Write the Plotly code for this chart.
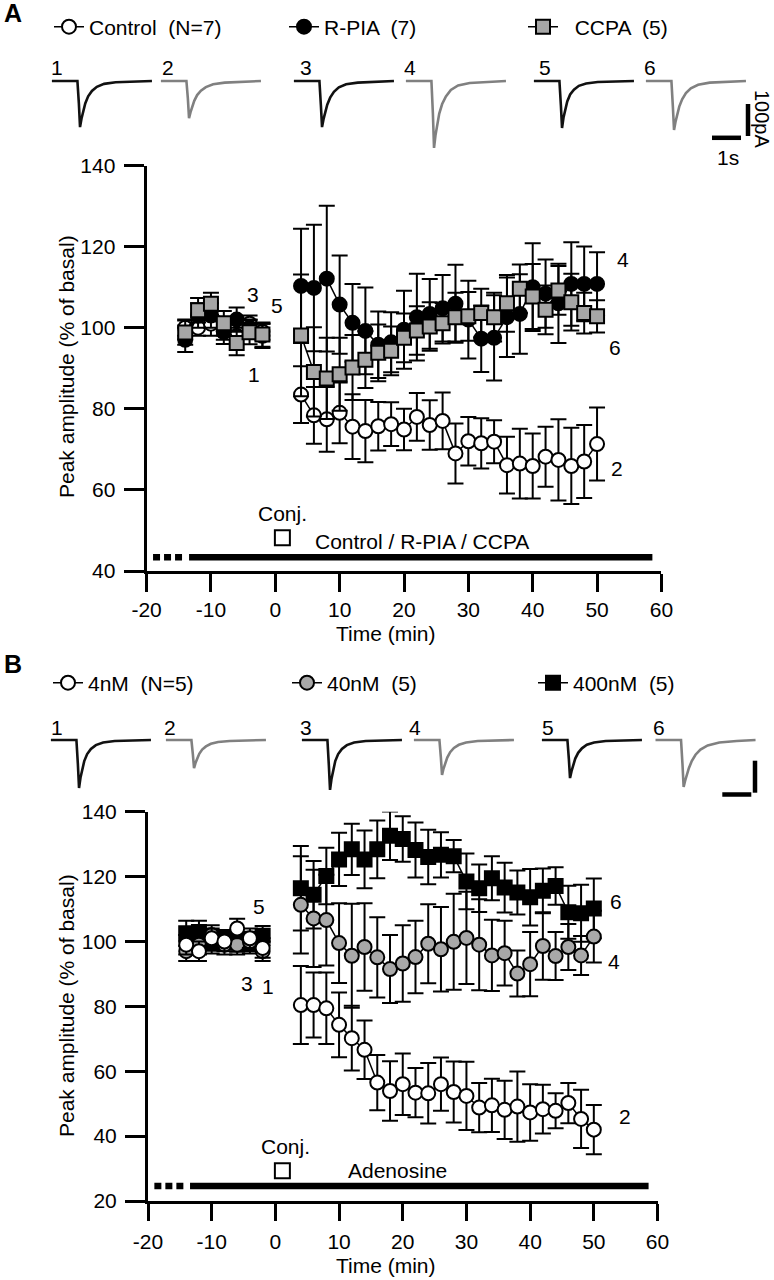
import plotly.graph_objects as go

W, H = 774, 1280
FONT = "Liberation Sans, Arial, Helvetica, sans-serif"
FS = 21

# ---------------- data (time in min) ----------------
TIME_PRE = [-14, -12, -10, -8, -6, -4, -2]
TIME_POST = [4, 6, 8, 10, 12, 14, 16, 18, 20, 22, 24, 26, 28, 30, 32, 34, 36, 38, 40, 42, 44, 46, 48, 50]

# Panel A (% of basal, mean and SEM)
CONTROL_PRE = [100, 100, 101, 99, 98, 101, 99]
CONTROL_PRE_SEM = [2, 2, 3, 2, 2, 2, 2]
CONTROL_POST = [83.5, 78.4, 77.4, 79.0, 75.6, 74.5, 75.7, 76.2, 74.9, 78.0, 76.0, 77.0,
                69.0, 72.0, 71.5, 71.9, 66.1, 66.5, 65.9, 68.2, 67.4, 65.9, 67.0, 71.3]
CONTROL_POST_SEM = [7, 7, 8, 7.5, 8, 7.7, 6, 5.4, 5.1, 5.9, 6.1, 7,
                    7.4, 6, 6.2, 5.3, 7, 8.6, 8, 7.4, 10, 9.4, 9, 9]

RPIA_PRE = [97, 103, 103, 99, 102, 100, 98]
RPIA_PRE_SEM = [3, 3, 3, 3, 3, 2, 3]
RPIA_POST = [110.3, 109.8, 112.1, 105.7, 101.2, 99.2, 95.8, 96.4, 99.5, 102.6, 103.4, 104.8,
             105.9, 102.0, 97.3, 97.5, 102.6, 103.4, 110.0, 108.4, 106.0, 110.8, 110.8, 110.8]
RPIA_POST_SEM = [14.1, 15.6, 18, 12.1, 9.6, 10.7, 8.2, 7.4, 9.6, 10.7, 8.6, 8.2,
                 9.6, 9.6, 8.2, 10.5, 9.8, 9.8, 10.8, 8.4, 9.8, 10.3, 9.2, 7.8]

CCPA_PRE = [98.8, 104.3, 105.9, 101.1, 96.2, 98.9, 98.3]
CCPA_PRE_SEM = [3, 3, 2.7, 3, 3, 3, 3]
CCPA_POST = [98.1, 89.1, 87.5, 88.5, 90.2, 92.1, 93.8, 94.3, 97.5, 99.3, 100.3, 101.1,
             102.6, 102.8, 103.6, 102.6, 106.0, 109.6, 107.7, 104.4, 109.2, 106.3, 103.6, 102.8]
CCPA_POST_SEM = [15, 11, 10, 9, 8, 7, 7, 6, 6, 6, 6, 5,
                 6, 6, 6, 6, 7, 6, 8, 6, 6, 7, 5, 4]

# Panel B
AD4_PRE = [99, 97, 101, 100, 104, 101, 98]
AD4_PRE_SEM = [3, 3, 3, 3, 3, 3, 3]
AD4_POST = [80.4, 80.4, 79.4, 74.3, 70.2, 66.6, 56.5, 53.9, 56.0, 53.4, 53.2, 56.0,
            53.6, 52.4, 48.8, 49.5, 48.1, 49.1, 47.3, 48.3, 47.8, 50.2, 45.3, 42.0]
AD4_POST_SEM = [12, 10, 11, 10, 10, 9, 8.5, 9.2, 9.5, 7.6, 9.3, 8.2,
                9.4, 10.5, 7.6, 8.2, 9, 10.8, 8.7, 7.5, 5.4, 6.2, 9, 7.6]

AD40_PRE = [97, 99, 102, 99, 99, 100, 97]
AD40_PRE_SEM = [3, 3, 3, 3, 3, 3, 3]
AD40_POST = [111.3, 107.1, 106.6, 99.5, 95.6, 98.3, 95.1, 91.5, 93.2, 95.2, 99.3, 97.6,
             99.9, 101.1, 99.0, 95.7, 96.4, 90.1, 93.0, 98.6, 95.5, 98.3, 95.7, 101.5]
AD40_POST_SEM = [15, 15, 14, 12.3, 16, 13.5, 12.4, 10.5, 11.8, 11.2, 12.2, 13,
                 14.8, 14.2, 14, 11, 10, 7.1, 9.9, 10.4, 7.4, 7.1, 6, 8]

AD400_PRE = [102.5, 102.9, 99.3, 100.5, 99.8, 99.3, 101.8]
AD400_PRE_SEM = [3.9, 3.5, 3, 3, 3, 3, 3]
AD400_POST = [116.4, 114.4, 120.2, 125.3, 128.4, 125.3, 128.4, 132.6, 131.6, 128.2, 126.0, 126.7,
              126.3, 118.5, 116.4, 119.5, 116.6, 115.1, 113.6, 115.6, 117.1, 109.0, 108.7, 110.2]
AD400_POST_SEM = [13, 10.4, 8.7, 8.2, 7.9, 8.9, 8.9, 7.5, 7, 8.5, 8.4, 7,
                  5, 8.6, 7.3, 6.8, 7.7, 6.8, 8.7, 6.9, 5.8, 8.2, 8.8, 9.2]

# drug application bars (min) and conditioning time
DRUG_BASE = [-19.0, -14.4]
DRUG_ON = [-13.4, 58.6]
CONJ_T = 1.1

# example sweeps: time (s) and current relative to baseline (pA)
SWEEP_T = [0, 0.88, 0.93, 0.97, 1.02, 1.08, 1.15, 1.25, 1.38, 1.55, 1.8, 2.2, 2.8, 3.45]
SWEEPS_A = [
    [0, 0, -70, -144, -118, -92, -70, -48, -31, -18, -9, -4, -2, 0],
    [0, 0, -55, -116, -98, -80, -62, -44, -30, -19, -10, -5, -2, 0],
    [0, 0, -75, -144, -120, -96, -74, -52, -34, -20, -10, -5, -2, 0],
    [0, 0, -100, -209, -170, -135, -102, -72, -48, -28, -14, -6, -2, 0],
    [0, 0, -75, -147, -115, -88, -64, -42, -27, -15, -8, -3, -1, 0],
    [0, 0, -80, -153, -128, -104, -80, -57, -38, -23, -12, -5, -2, 0],
]
SWEEPS_B = [
    [0, 0, -75, -150, -118, -90, -66, -44, -28, -16, -8, -3, -1, 0],
    [0, 0, -45, -88, -72, -57, -43, -30, -20, -12, -6, -3, -1, 0],
    [0, 0, -80, -156, -122, -92, -66, -44, -28, -16, -8, -3, -1, 0],
    [0, 0, -55, -109, -90, -72, -55, -38, -25, -15, -8, -3, -1, 0],
    [0, 0, -60, -119, -98, -78, -58, -40, -26, -15, -8, -3, -1, 0],
    [0, 0, -75, -147, -128, -108, -88, -66, -46, -30, -17, -8, -3, 0],
]
SWEEP_LABELS = ["1", "2", "3", "4", "5", "6"]
SCALE_S, SCALE_PA = 1, 100

XTICKS = [-20, -10, 0, 10, 20, 30, 40, 50, 60]
XTICK_TEXT = ["-20", "-10", "0", "10", "20", "30", "40", "50", "60"]
YTICKS_A = [40, 60, 80, 100, 120, 140]
YTICKS_B = [20, 40, 60, 80, 100, 120, 140]

# ---------------- layout helpers (pixel -> paper) ----------------
def PX(x):
    return x / W

def PY(y):
    return 1 - y / H

PX_PER_S, PX_PER_PA = 29.0, 0.32

fig = go.Figure()

def series(pre, post):
    return pre + [None] + post

XS = series(TIME_PRE, TIME_POST)

def add_group(name, pre, pre_e, post, post_e, symbol, fill, xa, ya, legend, rank):
    fig.add_trace(go.Scatter(
        x=XS, y=series(pre, post), name=name,
        mode="lines+markers", connectgaps=False,
        line=dict(color="black", width=1.5),
        marker=dict(symbol=symbol, size=14, color=fill, line=dict(color="black", width=2)),
        error_y=dict(type="data", array=series(pre_e, post_e), visible=True,
                     color="black", thickness=2, width=8),
        xaxis=xa, yaxis=ya, legend=legend, cliponaxis=False, legendrank=rank,
        hoverinfo="skip"))

add_group("Control  (N=7)", CONTROL_PRE, CONTROL_PRE_SEM, CONTROL_POST, CONTROL_POST_SEM,
          "circle", "white", "x", "y", "legend", 1)
add_group("R-PIA  (7)", RPIA_PRE, RPIA_PRE_SEM, RPIA_POST, RPIA_POST_SEM,
          "circle", "black", "x", "y", "legend2", 2)
add_group("  CCPA  (5)", CCPA_PRE, CCPA_PRE_SEM, CCPA_POST, CCPA_POST_SEM,
          "square", "#a6a6a6", "x", "y", "legend3", 3)

add_group("400nM  (5)", AD400_PRE, AD400_PRE_SEM, AD400_POST, AD400_POST_SEM,
          "square", "black", "x2", "y2", "legend6", 6)
add_group("40nM  (5)", AD40_PRE, AD40_PRE_SEM, AD40_POST, AD40_POST_SEM,
          "circle", "#a8a8a8", "x2", "y2", "legend5", 5)
add_group("4nM  (N=5)", AD4_PRE, AD4_PRE_SEM, AD4_POST, AD4_POST_SEM,
          "circle", "white", "x2", "y2", "legend4", 4)

# drug bars and conditioning marks
for xa, ya, level, conj_y in [("x", "y", 43.4, 48.2), ("x2", "y2", 24.6, 29.3)]:
    fig.add_trace(go.Scatter(x=DRUG_BASE, y=[level, level], mode="lines",
                             line=dict(color="black", width=6.5, dash="7px,4px"),
                             xaxis=xa, yaxis=ya, showlegend=False, cliponaxis=False, hoverinfo="skip"))
    fig.add_trace(go.Scatter(x=DRUG_ON, y=[level, level], mode="lines",
                             line=dict(color="black", width=6.5),
                             xaxis=xa, yaxis=ya, showlegend=False, cliponaxis=False, hoverinfo="skip"))
    fig.add_trace(go.Scatter(x=[CONJ_T], y=[conj_y], mode="markers",
                             marker=dict(symbol="square-open", size=15, color="black", line=dict(width=2)),
                             xaxis=xa, yaxis=ya, showlegend=False, cliponaxis=False, hoverinfo="skip"))

# example sweeps on an overlay axis (s, pA)
A_START = [51.9, 160.9, 293.9, 405.9, 533.9, 645.9]
B_START = [50.9, 165.9, 301.9, 413.9, 541.9, 655.5]
A_BASE, B_BASE = 81, 740
for starts, base, sweeps in [(A_START, A_BASE, SWEEPS_A), (B_START, B_BASE, SWEEPS_B)]:
    for i, (s0, cur) in enumerate(zip(starts, sweeps)):
        x0 = s0 / PX_PER_S
        y0 = -base / PX_PER_PA
        fig.add_trace(go.Scatter(
            x=[x0 + t for t in SWEEP_T], y=[y0 + c for c in cur], mode="lines",
            line=dict(color="#111111" if i % 2 == 0 else "#808080", width=2.6),
            xaxis="x3", yaxis="y3", showlegend=False, hoverinfo="skip"))

# scale bars
for vx, vbot, hx, hy in [(748, 136, 712, 137.8), (755, 792.7, 722.3, 794.5)]:
    fig.add_trace(go.Scatter(x=[vx / PX_PER_S] * 2,
                             y=[-vbot / PX_PER_PA, -vbot / PX_PER_PA + SCALE_PA],
                             mode="lines", line=dict(color="black", width=4.5),
                             xaxis="x3", yaxis="y3", showlegend=False, hoverinfo="skip"))
    fig.add_trace(go.Scatter(x=[hx / PX_PER_S, hx / PX_PER_S + SCALE_S],
                             y=[-hy / PX_PER_PA] * 2,
                             mode="lines", line=dict(color="black", width=4.5),
                             xaxis="x3", yaxis="y3", showlegend=False, hoverinfo="skip"))

axis_common = dict(showline=True, linewidth=3, linecolor="black", ticks="outside",
                   tickwidth=3, tickcolor="black", showgrid=False, zeroline=False,
                   automargin=False,
                   tickfont=dict(family=FONT, size=FS, color="black"))

fig.update_layout(
    width=W, height=H, margin=dict(l=0, r=0, t=0, b=0, pad=0, autoexpand=False),
    paper_bgcolor="white", plot_bgcolor="rgba(0,0,0,0)",
    font=dict(family=FONT, size=FS, color="black"),
    xaxis=dict(domain=[PX(146.6), PX(661.4)], range=[-20, 60], tickvals=XTICKS,
               ticktext=XTICK_TEXT, ticklen=18, anchor="y", **axis_common),
    yaxis=dict(domain=[PY(571), PY(165.5)], range=[40, 140], tickvals=YTICKS_A,
               ticklen=20, ticklabelstandoff=4, anchor="x", **axis_common),
    xaxis2=dict(domain=[PX(148), PX(657.5)], range=[-20, 60], tickvals=XTICKS,
                ticktext=XTICK_TEXT, ticklen=17, ticklabelstandoff=3, anchor="y2", **axis_common),
    yaxis2=dict(domain=[PY(1201), PY(811.7)], range=[20, 140],
                tickvals=YTICKS_B, ticklen=20, ticklabelstandoff=4, anchor="x2", **axis_common),
    xaxis3=dict(domain=[0, 1], range=[0, W / PX_PER_S], visible=False, anchor="y3"),
    yaxis3=dict(domain=[0, 1], range=[-H / PX_PER_PA, 0], visible=False, anchor="x3"),
)

# legends, one per item (x = left edge of the legend box)
LEG_POS = {"legend": (49, 27), "legend2": (284, 27), "legend3": (523, 27),
           "legend4": (48, 683), "legend5": (287, 683), "legend6": (533, 683)}
for key, (lx, ly) in LEG_POS.items():
    fig.update_layout({key: dict(x=PX(lx), y=PY(ly), xanchor="left", yanchor="middle",
                                 orientation="h", bgcolor="rgba(0,0,0,0)", borderwidth=0,
                                 font=dict(family=FONT, size=FS, color="black"), itemwidth=30)})

ann = []
def text(x, y, s, size=FS, **kw):
    d = dict(x=PX(x), y=PY(y), xref="paper", yref="paper", text=s, showarrow=False,
             font=dict(family=FONT, size=size, color="black"), xanchor="center", yanchor="middle")
    d.update(kw)
    ann.append(d)

# panel letters
text(13, 13, "<b>A</b>", size=25)
text(13, 664, "<b>B</b>", size=25)
# sweep numbers
for lbl, x in zip(SWEEP_LABELS, [57, 168, 306, 410, 545, 650]):
    text(x, 68, lbl)
for lbl, x in zip(SWEEP_LABELS, [57, 170, 306, 415, 548, 659]):
    text(x, 727, lbl)
# scale bar labels
text(762, 119, "100pA", textangle=90, size=20)
text(727.5, 157.5, "1s")
# curve labels
for lbl, x, y in [("3", 253, 294), ("5", 277, 305), ("1", 254, 374),
                  ("4", 623, 259), ("6", 615, 347), ("2", 617, 468)]:
    text(x, y, lbl)
for lbl, x, y in [("5", 259, 906), ("3", 247, 983), ("1", 268, 986),
                  ("6", 616, 901), ("4", 614, 961), ("2", 625, 1116)]:
    text(x, y, lbl)
# conj / drug labels
text(282, 513, "Conj.")
text(313, 541.7, "Control / R-PIA / CCPA", xanchor="left")
text(285, 1146, "Conj.")
text(346, 1170, "Adenosine", xanchor="left")
# axis titles
text(386, 633, "Time (min)")
text(386, 1265, "Time (min)")
text(66, 367, "Peak amplitude (% of basal)", textangle=-90)
text(66, 1006, "Peak amplitude (% of basal)", textangle=-90)

fig.update_layout(annotations=ann)
fig.write_html("out.html", config={"displayModeBar": False},
               post_script="document.body.style.margin='0px';document.body.style.overflow='hidden';")
